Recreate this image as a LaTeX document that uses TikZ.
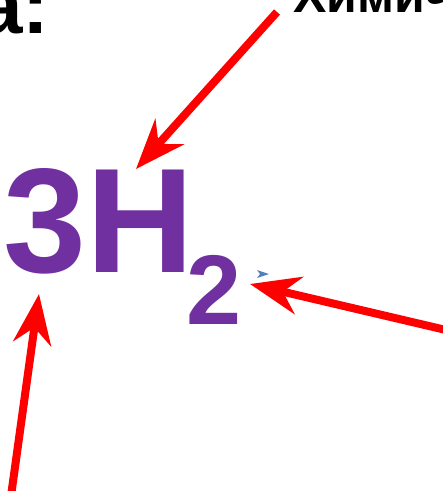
\documentclass[tikz,border=0pt]{standalone}
\usepackage{fontspec}
\setmainfont{Liberation Sans}
\usepackage{xcolor}
\usetikzlibrary{arrows.meta}

\definecolor{formulapurple}{HTML}{7030A0}
\definecolor{markblue}{HTML}{4F81BD}

\begin{document}
\begin{tikzpicture}[
    x=1pt, y=-1pt,
    >={Stealth[length=50pt, width=38pt]},
    pointer/.style={->, line width=8pt, color=red},
    formula/.style={font=\fontsize{#1}{#1}\selectfont\bfseries, text=formulapurple, inner sep=0pt, anchor=base west},
    formula/.default=149,
    caption/.style={font=\fontsize{#1}{#1}\selectfont\bfseries, text=black, inner sep=0pt, anchor=base west}
]

\useasboundingbox (0,0) rectangle (443,491);
\clip (0,0) rectangle (443,491);

% Cut-off titles at the top
\node[caption=80] (lefttitle) at (-22,33) {а:};
\node[caption=50] (righttitle) at (293,12) {Химический};

% Formula
\node[formula] (symbol) at (3,272) {3H};
\node[formula=99] (index) at (186,324) {2};

% Small blue marker
\fill[markblue] (257,270) -- (269,274) -- (257,278) -- (260,274) -- cycle;

% ---- ARROWS ----
\coordinate (fromtop) at (277,12);
\coordinate (toH) at (136,169);
\coordinate (fromright) at (446,330);
\coordinate (toindex) at (250,284);
\coordinate (frombottom) at (11,496);
\coordinate (todigit) at (39,294);

\draw[pointer] (fromtop) -- (toH);
\draw[pointer] (fromright) -- (toindex);
\draw[pointer] (frombottom) -- (todigit);

\end{tikzpicture}
\end{document}
